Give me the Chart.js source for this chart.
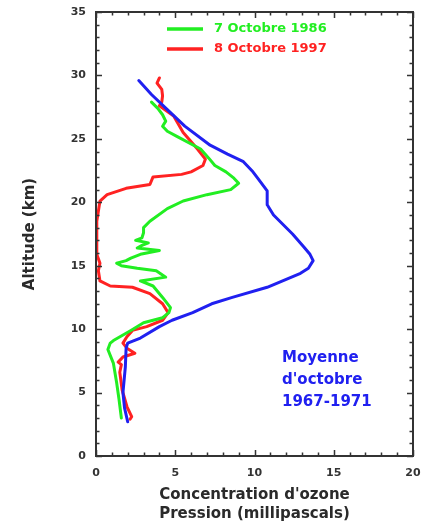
<!DOCTYPE html>
<html>
<head>
<meta charset="utf-8">
<script src="https://cdn.jsdelivr.net/npm/chart.js@4.4.1/dist/chart.umd.min.js"></script>
<style>
  html, body { margin: 0; padding: 0; background: #ffffff; }
  #wrap { width: 421px; height: 527px; position: relative; }
</style>
</head>
<body>
<div id="wrap"><canvas id="c" width="421" height="527"></canvas></div>
<script>
// ---- Data (altitude in km, ozone partial pressure in mPa) ----
const seriesNames = ['Moyenne d\'octobre 1967-1971', '7 Octobre 1986', '8 Octobre 1997'];
const annotationLines = ['Moyenne', 'd\'octobre', '1967-1971'];

const meanAlt  = [29.6, 28.5, 27.3, 26.0, 24.5, 23.8, 23.2, 22.4, 21.9, 20.9, 19.8, 19.0, 17.5, 16.5, 15.9, 15.4, 14.8, 14.4, 13.3, 12.5, 12.0, 11.3, 10.7, 10.2, 9.3, 8.9, 8.5, 7.0, 5.0, 3.8, 2.7];
const meanConc = [2.7, 3.5, 4.5, 5.6, 7.2, 8.3, 9.3, 9.9, 10.2, 10.8, 10.8, 11.2, 12.4, 13.1, 13.5, 13.7, 13.4, 12.9, 10.8, 8.6, 7.3, 6.1, 4.8, 4.0, 2.8, 2.0, 1.9, 1.85, 1.7, 1.8, 2.0];

const alt1986  = [27.9, 27.4, 26.9, 26.4, 26.0, 25.6, 25.2, 24.2, 23.5, 22.9, 22.4, 21.9, 21.5, 21.0, 20.6, 20.1, 19.5, 18.5, 18.0, 17.6, 17.2, 17.0, 16.8, 16.6, 16.4, 16.2, 15.9, 15.6, 15.4, 15.2, 15.0, 14.8, 14.6, 14.1, 13.8, 13.4, 12.5, 11.7, 11.3, 10.9, 10.5, 9.9, 9.1, 8.9, 8.4, 7.3, 5.8, 4.5, 3.0];
const conc1986 = [3.5, 3.9, 4.2, 4.4, 4.2, 4.5, 5.1, 6.6, 7.1, 7.5, 8.2, 8.7, 9.0, 8.5, 7.0, 5.5, 4.5, 3.4, 3.0, 3.0, 2.9, 2.5, 3.3, 2.9, 2.6, 4.0, 2.8, 2.2, 1.9, 1.3, 1.6, 2.6, 3.8, 4.4, 2.8, 3.6, 4.2, 4.7, 4.6, 4.2, 3.0, 2.2, 1.1, 0.9, 0.75, 1.1, 1.3, 1.45, 1.6];

const alt1997  = [29.8, 29.4, 28.9, 28.4, 27.9, 27.6, 26.8, 25.5, 24.2, 23.4, 22.9, 22.4, 22.2, 22.0, 21.4, 21.1, 20.6, 20.1, 18.5, 15.9, 15.2, 14.6, 13.8, 13.4, 13.3, 12.8, 12.0, 11.3, 10.7, 10.2, 9.9, 9.4, 8.9, 8.5, 8.1, 7.8, 7.4, 7.2, 6.6, 5.2, 3.9, 3.1, 2.9];
const conc1997 = [4.0, 3.85, 4.15, 4.2, 4.15, 4.0, 4.9, 5.5, 6.4, 6.9, 6.75, 6.0, 5.4, 3.6, 3.4, 1.9, 0.7, 0.25, 0.05, 0.05, 0.25, 0.15, 0.25, 0.9, 2.3, 3.4, 4.2, 4.55, 4.2, 3.2, 2.3, 1.95, 1.7, 1.95, 2.45, 1.7, 1.4, 1.6, 1.5, 1.65, 1.95, 2.25, 2.15];

const xTicks = [0, 5, 10, 15, 20];
const yTicks = [0, 5, 10, 15, 20, 25, 30, 35];

const colors = { mean: '#2020f0', y1986: '#22ee22', y1997: '#ff2222' };

function toPoints(xs, ys) { return xs.map((x, i) => ({ x: x, y: ys[i] })); }

Chart.defaults.font.family = 'DejaVu Sans';

const frameTicks = {
  id: 'frameTicks',
  afterDatasetsDraw(chart) {
    const { ctx, chartArea: a, scales: { x, y } } = chart;
    ctx.save();
    ctx.strokeStyle = '#333333';
    ctx.lineWidth = 1.5;
    for (let v = xTicks[0]; v <= xTicks[xTicks.length - 1]; v += 1) {
      const px = Math.round(x.getPixelForValue(v)) + 0.5;
      const len = v % 5 === 0 ? 6 : 3.5;
      ctx.beginPath();
      ctx.moveTo(px, a.bottom); ctx.lineTo(px, a.bottom - len);
      ctx.moveTo(px, a.top); ctx.lineTo(px, a.top + len);
      ctx.stroke();
    }
    for (let v = yTicks[0]; v <= yTicks[yTicks.length - 1]; v += 1) {
      const py = Math.round(y.getPixelForValue(v)) + 0.5;
      const len = v % 5 === 0 ? 6 : 3.5;
      ctx.beginPath();
      ctx.moveTo(a.left, py); ctx.lineTo(a.left + len, py);
      ctx.moveTo(a.right, py); ctx.lineTo(a.right - len, py);
      ctx.stroke();
    }
    ctx.lineWidth = 2;
    ctx.strokeRect(a.left, a.top, a.right - a.left, a.bottom - a.top);

    // legend (inside plot, top)
    ctx.font = 'bold 13px "DejaVu Sans"';
    ctx.textBaseline = 'middle';
    ctx.textAlign = 'left';
    const items = [[1, 29], [2, 49]];
    items.forEach(([di, ly]) => {
      const ds = chart.data.datasets[di];
      ctx.strokeStyle = ds.borderColor;
      ctx.lineWidth = 3.5;
      ctx.beginPath();
      ctx.moveTo(167, ly); ctx.lineTo(203, ly);
      ctx.stroke();
      ctx.fillStyle = ds.borderColor;
      ctx.fillText(ds.label, 214, ly);
    });

    // annotation for the mean profile
    ctx.font = 'bold 15px "DejaVu Sans"';
    ctx.fillStyle = colors.mean;
    annotationLines.forEach((t, i) => ctx.fillText(t, 282, 358 + i * 22));
    ctx.restore();
  }
};

new Chart(document.getElementById('c'), {
  type: 'scatter',
  data: {
    datasets: [
      { label: seriesNames[0], data: toPoints(meanConc, meanAlt), borderColor: colors.mean, backgroundColor: colors.mean },
      { label: seriesNames[1], data: toPoints(conc1986, alt1986), borderColor: colors.y1986, backgroundColor: colors.y1986 },
      { label: seriesNames[2], data: toPoints(conc1997, alt1997), borderColor: colors.y1997, backgroundColor: colors.y1997 }
    ].map(d => Object.assign(d, { showLine: true, pointRadius: 0, borderWidth: 3, tension: 0, borderJoinStyle: 'round', borderCapStyle: 'round' }))
  },
  options: {
    responsive: false,
    animation: false,
    events: [],
    layout: { padding: { top: 12, right: 8, left: 0, bottom: 0 } },
    plugins: { legend: { display: false }, tooltip: { enabled: false } },
    scales: {
      x: {
        type: 'linear', min: 0, max: 20,
        afterBuildTicks: s => { s.ticks = xTicks.map(v => ({ value: v })); },
        afterFit: s => { s.height = 71; s.paddingLeft = 0; s.paddingRight = 0; },
        grid: { display: false, drawTicks: false },
        border: { display: false },
        ticks: { padding: 11, color: '#333333', font: { size: 11, weight: 'bold' }, maxRotation: 0 },
        title: { display: true, text: ['Concentration d\'ozone', 'Pression (millipascals)'], color: '#2a2a2a', font: { size: 15, weight: 'bold', lineHeight: 1.25 }, padding: { top: 0, bottom: 4 } }
      },
      y: {
        type: 'linear', min: 0, max: 35,
        afterBuildTicks: s => { s.ticks = yTicks.map(v => ({ value: v })); },
        afterFit: s => { s.width = 96; s.paddingTop = 0; s.paddingBottom = 0; },
        grid: { display: false, drawTicks: false },
        border: { display: false },
        ticks: { padding: 10, color: '#333333', font: { size: 11, weight: 'bold' } },
        title: { display: true, text: 'Altitude (km)', color: '#2a2a2a', font: { size: 15, weight: 'bold', lineHeight: 1.25 }, padding: { top: 21, bottom: 0 } }
      }
    }
  },
  plugins: [frameTicks]
});
</script>
</body>
</html>
